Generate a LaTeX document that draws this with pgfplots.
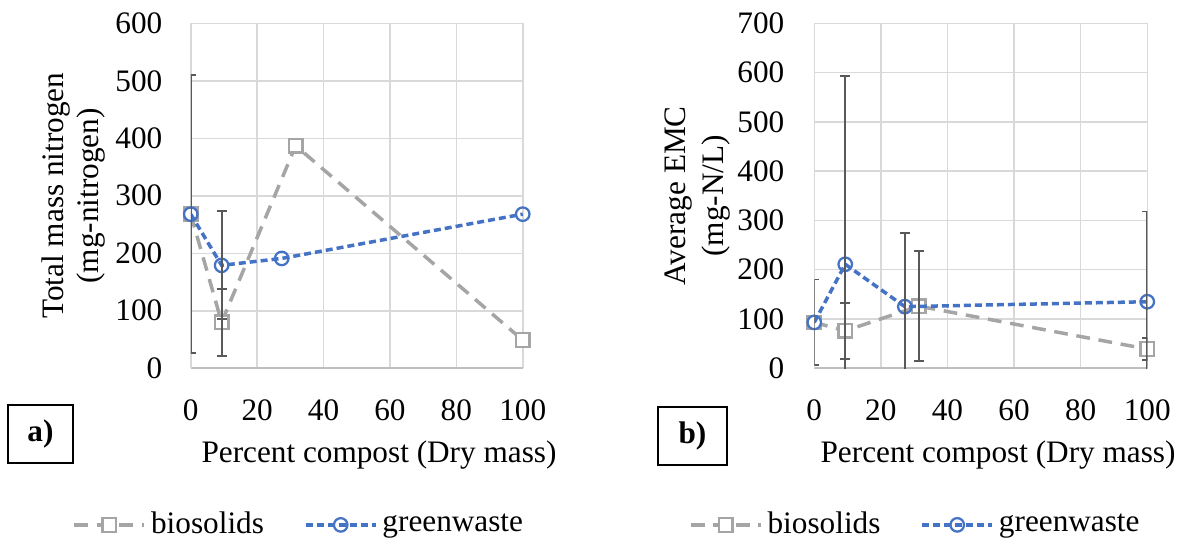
\documentclass[border=0pt]{standalone}
\usepackage{fontspec}
\setmainfont{Liberation Serif}
\usepackage{pgfplots}
\pgfplotsset{compat=1.18}
\definecolor{bgray}{HTML}{A5A5A5}
\definecolor{gblue}{HTML}{4472C4}
\definecolor{errgray}{HTML}{595959}
\definecolor{gridgray}{HTML}{D9D9D9}
\definecolor{linegray}{HTML}{BFBFBF}
\newcommand{\cf}{\fontsize{12.5}{14.5}\selectfont}
\pgfplotsset{
  panel/.style={
    scale only axis,
    anchor=south west,
    xmin=0, xmax=100,
    ymin=0,
    xtick={0,20,...,100},
    major tick length=0pt,
    grid=major,
    major grid style={draw=gridgray, line width=0.6pt},
    separate axis lines,
    axis x line*=bottom,
    axis y line*=left,
    x axis line style={draw=linegray, line width=0.8pt, -},
    y axis line style={draw=gridgray, line width=0.6pt, -},
    /pgf/number format/assume math mode=true,
    tick label style={font=\cf, text=black},
    xticklabel style={anchor=center, yshift=-16.7pt},
    label style={font=\cf},
    clip mode=individual,
    legend columns=2,
    legend style={draw=none, fill=none, font=\cf, inner sep=1pt,
      /tikz/every even column/.append style={column sep=14pt}},
    legend image code/.code={\draw[mark repeat=2,mark phase=2,##1] plot coordinates {(0pt,0pt) (14pt,0pt) (28pt,0pt)};},
  },
  bio/.style={color=bgray, line width=1.4pt, dash pattern=on 5.5pt off 3.5pt,
    mark=square*, mark size=2.7pt, mark options={solid, fill=white, draw=bgray, line width=0.9pt}},
  green/.style={color=gblue, line width=1.4pt, dash pattern=on 2.8pt off 1.6pt,
    mark=o, mark size=2.7pt, mark options={solid, fill=white, draw=gblue, line width=0.9pt}},
  ebar/.style={draw=none, mark=none, forget plot,
    error bars/.cd, y dir=both, y explicit,
    error bar style={draw=errgray, line width=0.75pt, solid},
    error mark options={draw=errgray, line width=0.75pt, mark size=2pt, rotate=90}},
}
\begin{document}
\cf
\begin{tikzpicture}[font=\cf]
\path[use as bounding box] (0pt,0pt) rectangle (476pt,217.6pt);
% ---------- panel a ----------
\begin{axis}[panel,
  at={(76.3pt,70.3pt)}, width=132.8pt, height=138pt,
  ymax=600, ytick={0,100,...,600},
  yticklabel style={anchor=east, xshift=-7pt},
  xlabel={Percent compost (Dry mass)},
  xlabel style={at={(axis description cs:0.567,0)}, anchor=center, yshift=-34.7pt},
  ylabel={Total mass nitrogen\\(mg-nitrogen)},
  ylabel style={at={(axis description cs:-0.353,0.5)}, anchor=center, align=center, font=\fontsize{12.5}{13.8}\selectfont},
  legend style={at={(axis description cs:0.33,-0.454)}, anchor=center},
]
\addplot[bio] coordinates {(0,268) (9.3,80) (31.6,387) (100,49)};
\addlegendentry{biosolids}
\addplot[green] coordinates {(0,268) (9.3,179) (27.4,191) (100,268)};
\addlegendentry{greenwaste}
\addplot[ebar] coordinates {(0,268) +- (0,242) (9.3,80) +- (0,58) (9.3,179) +- (0,94)};
\end{axis}
\node[draw=black, line width=0.6pt, minimum width=26pt, minimum height=23.2pt, inner sep=0pt, font=\cf\bfseries] at (16.2pt,44pt) {a)};
% ---------- panel b ----------
\begin{axis}[panel,
  at={(325.7pt,70.3pt)}, width=133.2pt, height=138pt,
  ymax=700, ytick={0,100,...,700},
  yticklabel style={anchor=east, xshift=-7.6pt},
  xlabel={Percent compost (Dry mass)},
  xlabel style={at={(axis description cs:0.552,0)}, anchor=center, yshift=-34.7pt},
  ylabel={Average EMC\\(mg-N/L)},
  ylabel style={at={(axis description cs:-0.351,0.5)}, anchor=center, align=center, font=\fontsize{12.5}{15.4}\selectfont},
  legend style={at={(axis description cs:0.308,-0.454)}, anchor=center},
]
\addplot[bio] coordinates {(0,93) (9.3,76) (31.4,126) (100,39)};
\addlegendentry{biosolids}
\addplot[green] coordinates {(0,93) (9.3,211) (27.2,125) (100,135)};
\addlegendentry{greenwaste}
\addplot[ebar] coordinates {(0,93) +- (0,87) (9.3,76) +- (0,57) (9.3,211) +- (0,382)
  (27.2,125) +- (0,149) (31.4,126) +- (0,112) (100,135) +- (0,183) (100,39) +- (0,22)};
\end{axis}
\node[draw=black, line width=0.6pt, minimum width=27.5pt, minimum height=23.2pt, inner sep=0pt, font=\cf\bfseries] at (277pt,43.2pt) {b)};
\end{tikzpicture}
\end{document}
